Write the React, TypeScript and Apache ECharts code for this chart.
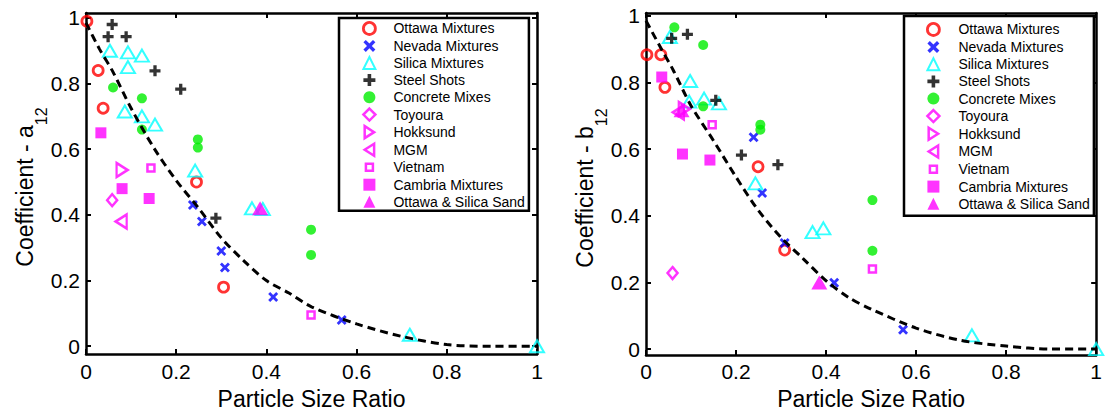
import React, { useEffect, useRef } from "react";
import * as echarts from "echarts";

// ---------- data ----------
const NAMES = [
  "Ottawa Mixtures",
  "Nevada Mixtures",
  "Silica Mixtures",
  "Steel Shots",
  "Concrete Mixes",
  "Toyoura",
  "Hokksund",
  "MGM",
  "Vietnam",
  "Cambria Mixtures",
  "Ottawa & Silica Sand",
];

const X_TICKS = [0, 0.2, 0.4, 0.6, 0.8, 1];
const Y_TICKS = [0, 0.2, 0.4, 0.6, 0.8, 1];

// Coefficient a12 (left panel)
const A_OTTAWA = [[0.002, 0.99], [0.027, 0.84], [0.038, 0.725], [0.245, 0.5], [0.305, 0.18]];
const A_NEVADA = [[0.237, 0.43], [0.257, 0.38], [0.3, 0.29], [0.308, 0.24], [0.415, 0.15], [0.567, 0.08]];
const A_SILICA = [[0.053, 0.9], [0.093, 0.895], [0.124, 0.885], [0.093, 0.85], [0.086, 0.715], [0.124, 0.7], [0.153, 0.675], [0.242, 0.535], [0.368, 0.42], [0.392, 0.418], [0.718, 0.035], [1.0, 0.0]];
const A_STEEL = [[0.058, 0.98], [0.049, 0.943], [0.089, 0.943], [0.153, 0.839], [0.21, 0.783], [0.288, 0.39]];
const A_CONCRETE = [[0.06, 0.788], [0.124, 0.755], [0.124, 0.66], [0.248, 0.63], [0.248, 0.605], [0.499, 0.355], [0.499, 0.278]];
const A_TOYOURA = [[0.058, 0.445]];
const A_HOKKSUND = [[0.08, 0.537]];
const A_MGM = [[0.078, 0.38]];
const A_VIETNAM = [[0.144, 0.543], [0.499, 0.095]];
const A_CAMBRIA = [[0.033, 0.65], [0.08, 0.48], [0.14, 0.45]];
const A_OSS = [[0.386, 0.42]];
const A_FIT_X = [0, 0.03, 0.06, 0.1, 0.15, 0.2, 0.25, 0.3, 0.35, 0.4, 0.45, 0.5, 0.6, 0.7, 0.8, 0.9, 1];
const A_FIT_Y = [0.985, 0.905, 0.835, 0.725, 0.605, 0.505, 0.42, 0.33, 0.26, 0.2, 0.162, 0.12, 0.068, 0.03, 0.005, 0, 0];

// Coefficient b12 (right panel)
const B_OTTAWA = [[0.002, 0.883], [0.033, 0.883], [0.042, 0.785], [0.249, 0.547], [0.308, 0.297]];
const B_NEVADA = [[0.239, 0.635], [0.258, 0.468], [0.308, 0.318], [0.418, 0.199], [0.571, 0.058]];
const B_SILICA = [[0.053, 0.936], [0.098, 0.804], [0.096, 0.742], [0.129, 0.751], [0.162, 0.737], [0.243, 0.497], [0.37, 0.351], [0.394, 0.362], [0.724, 0.041], [1.0, 0.0]];
const B_STEEL = [[0.057, 0.932], [0.092, 0.944], [0.155, 0.746], [0.212, 0.582], [0.293, 0.553]];
const B_CONCRETE = [[0.063, 0.965], [0.127, 0.912], [0.127, 0.728], [0.254, 0.673], [0.254, 0.658], [0.503, 0.447], [0.503, 0.295]];
const B_TOYOURA = [[0.059, 0.228]];
const B_HOKKSUND = [[0.085, 0.72]];
const B_MGM = [[0.072, 0.71]];
const B_VIETNAM = [[0.147, 0.673], [0.503, 0.24]];
const B_CAMBRIA = [[0.035, 0.816], [0.081, 0.585], [0.142, 0.567]];
const B_OSS = [[0.079, 0.716], [0.385, 0.2]];
const B_FIT_X = [0, 0.035, 0.06, 0.1, 0.15, 0.2, 0.25, 0.3, 0.35, 0.4, 0.45, 0.5, 0.6, 0.7, 0.8, 0.9, 1];
const B_FIT_Y = [0.985, 0.898, 0.838, 0.73, 0.625, 0.516, 0.415, 0.335, 0.27, 0.205, 0.155, 0.12, 0.063, 0.026, 0.009, 0, 0];

const A_SETS = [A_OTTAWA, A_NEVADA, A_SILICA, A_STEEL, A_CONCRETE, A_TOYOURA, A_HOKKSUND, A_MGM, A_VIETNAM, A_CAMBRIA, A_OSS];
const B_SETS = [B_OTTAWA, B_NEVADA, B_SILICA, B_STEEL, B_CONCRETE, B_TOYOURA, B_HOKKSUND, B_MGM, B_VIETNAM, B_CAMBRIA, B_OSS];

// ---------- styles ----------
const FONT = "Liberation Sans, Arial, Helvetica, sans-serif";
const NONE = "rgba(255,255,255,0)";
const RED = "#ff0000";
const BLUE = "#0000ff";
const CYAN = "#00ffff";
const GREEN = "#00ee00";
const MAGENTA = "#ff00ff";
const PLUS = "path://M3.5,0H6.5V3.5H10V6.5H6.5V10H3.5V6.5H0V3.5H3.5Z";
const CROSS = "path://M0,2L2,0L5,3L8,0L10,2L7,5L10,8L8,10L5,7L2,10L0,8L3,5Z";
const TRI_RIGHT = "path://M0,0L11,7L0,14Z";
const TRI_LEFT = "path://M11,0L0,7L11,14Z";
// small square icon padded inside a 12-unit box, for the legend
const SMALL_SQUARE = "path://M0,0M12,12M2.5,2.5H9.5V9.5H2.5Z";

const MARKERS: any[] = [
  { symbol: "circle", symbolSize: 10, itemStyle: { color: NONE, borderColor: RED, borderWidth: 2.8 } },
  { symbol: CROSS, symbolSize: 10, itemStyle: { color: BLUE } },
  { symbol: "triangle", symbolSize: [14, 12], itemStyle: { color: NONE, borderColor: CYAN, borderWidth: 2 } },
  { symbol: PLUS, symbolSize: 11, itemStyle: { color: "#000000" } },
  { symbol: "circle", symbolSize: 10, itemStyle: { color: GREEN } },
  { symbol: "diamond", symbolSize: [10, 12], itemStyle: { color: NONE, borderColor: MAGENTA, borderWidth: 2.5 } },
  { symbol: TRI_RIGHT, symbolSize: [11, 14], itemStyle: { color: NONE, borderColor: MAGENTA, borderWidth: 2.5 } },
  { symbol: TRI_LEFT, symbolSize: [11, 14], itemStyle: { color: NONE, borderColor: MAGENTA, borderWidth: 2.5 } },
  { symbol: "rect", symbolSize: 7, itemStyle: { color: NONE, borderColor: MAGENTA, borderWidth: 2.5 } },
  { symbol: "rect", symbolSize: 11, itemStyle: { color: MAGENTA } },
  { symbol: "triangle", symbolSize: [16, 14], itemStyle: { color: MAGENTA } },
];

// legend icon tweaks
const LEGEND_ICON: any[] = [
  { itemStyle: { borderWidth: 2.8 } },
  {},
  { itemStyle: { borderWidth: 2 } },
  {},
  {},
  { itemStyle: { borderWidth: 2.5 } },
  { itemStyle: { borderWidth: 2.5 } },
  { itemStyle: { borderWidth: 2.5 } },
  { icon: SMALL_SQUARE, itemStyle: { borderWidth: 2.5 } },
  {},
  {},
];

function xAxes(grid: number, labelMargin: number, nameGap: number) {
  const common = {
    type: "value",
    gridIndex: grid,
    min: 0,
    max: 1,
    interval: 0.2,
    splitLine: { show: false },
    axisLine: { show: true, onZero: false, lineStyle: { color: "#000", width: 2.5 } },
    axisTick: { show: true, inside: true, length: 5, lineStyle: { color: "#000", width: 2 } },
  };
  return [
    {
      ...common,
      position: "bottom",
      axisLabel: { show: true, color: "#000", fontSize: 21, fontFamily: FONT, margin: labelMargin, customValues: X_TICKS },
      name: "Particle Size Ratio",
      nameLocation: "middle",
      nameGap,
      nameTextStyle: { color: "#000", fontSize: 23, fontFamily: FONT },
    },
    { ...common, position: "top", axisLabel: { show: false } },
  ];
}

function yAxes(grid: number, min: number, max: number) {
  const common = {
    type: "value",
    gridIndex: grid,
    min,
    max,
    splitLine: { show: false },
    axisLine: { show: true, onZero: false, lineStyle: { color: "#000", width: 2.5 } },
    axisTick: { show: true, inside: true, length: 5, customValues: Y_TICKS, lineStyle: { color: "#000", width: 2 } },
  };
  return [
    {
      ...common,
      position: "left",
      axisLabel: { show: true, color: "#000", fontSize: 21, fontFamily: FONT, margin: 6, customValues: Y_TICKS },
    },
    { ...common, position: "right", axisLabel: { show: false, customValues: Y_TICKS } },
  ];
}

function scatterSeries(sets: number[][][], xi: number, yi: number) {
  return sets.map((d, i) => ({
    type: "scatter",
    name: NAMES[i],
    xAxisIndex: xi,
    yAxisIndex: yi,
    data: d,
    clip: false,
    ...MARKERS[i],
  }));
}

function fitSeries(xs: number[], ys: number[], xi: number, yi: number, name: string) {
  return {
    type: "line",
    name,
    xAxisIndex: xi,
    yAxisIndex: yi,
    data: xs.map((x, i) => [x, ys[i]]),
    showSymbol: false,
    symbol: "none",
    smooth: 0.3,
    clip: false,
    z: 5,
    silent: true,
    lineStyle: { color: "#000", width: 3, type: [8, 5] },
  };
}

function legend(left: number, top: number, padding: number[], gap: number, textPad: number) {
  return {
    data: NAMES.map((n, i) => ({ name: n, ...LEGEND_ICON[i] })),
    orient: "vertical",
    left,
    top,
    padding,
    itemGap: gap,
    itemWidth: 12,
    itemHeight: 12,
    backgroundColor: "#fff",
    borderColor: "#000",
    borderWidth: 2.5,
    selectedMode: false,
    textStyle: { color: "#000", fontSize: 14, fontFamily: FONT, lineHeight: 14, padding: [0, 0, 0, textPad] },
  };
}

function yTitle(x: number, y: number, letter: string) {
  return {
    type: "text",
    x,
    y,
    rotation: Math.PI / 2,
    style: {
      text: "{b|Coefficient - " + letter + "}{s|12}",
      align: "center",
      verticalAlign: "middle",
      fill: "#000",
      rich: {
        b: { fontSize: 23, lineHeight: 23, fontFamily: FONT, fill: "#000", verticalAlign: "top" },
        s: { fontSize: 16, lineHeight: 16, fontFamily: FONT, fill: "#000", verticalAlign: "top", padding: [20, 0, 0, 0] },
      },
    },
  };
}

export default function App() {
  const ref = useRef<HTMLDivElement>(null);
  useEffect(() => {
    if (!ref.current) return;
    const chart = echarts.init(ref.current, null, { renderer: "svg" });
    chart.setOption({
      animation: false,
      backgroundColor: "#fff",
      grid: [
        { left: 86, top: 13, width: 451, height: 348 },
        { left: 646, top: 13, width: 457, height: 350 },
      ],
      xAxis: [...xAxes(0, 7, 27), ...xAxes(1, 6, 29)],
      yAxis: [...yAxes(0, -0.024, 1.015), ...yAxes(1, -0.018, 1.008)],
      legend: [legend(339, 18, [3, 4, 2, 23], 3.1, 13), legend(904, 16, [6, 4, 5, 22], 3.2, 14)],
      graphic: [yTitle(25, 187, "a"), yTitle(585, 188, "b")],
      series: [
        ...scatterSeries(A_SETS, 0, 0),
        fitSeries(A_FIT_X, A_FIT_Y, 0, 0, "a12 fit"),
        ...scatterSeries(B_SETS, 2, 2),
        fitSeries(B_FIT_X, B_FIT_Y, 2, 2, "b12 fit"),
      ],
    });
    return () => chart.dispose();
  }, []);
  return <div ref={ref} style={{ position: "absolute", left: 0, top: 0, width: 1105, height: 415 }} />;
}
